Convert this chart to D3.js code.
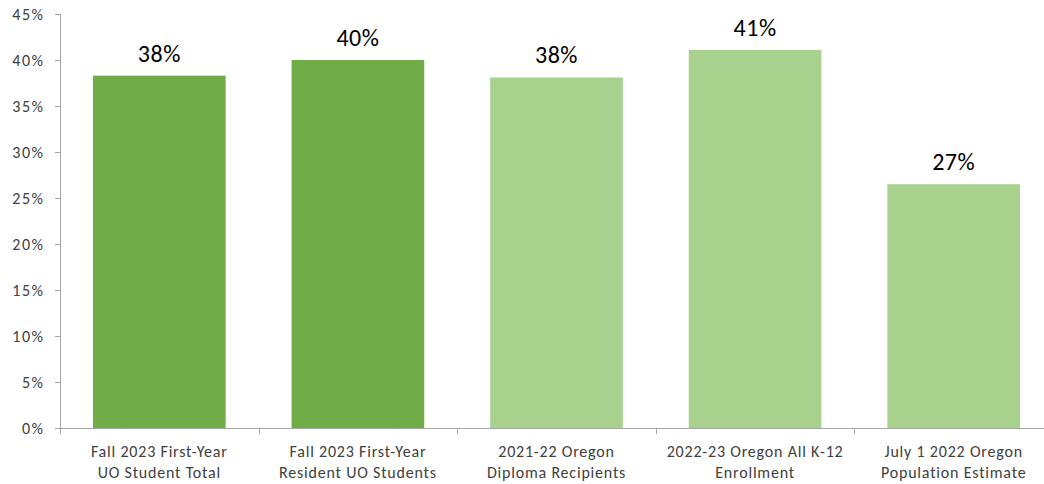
<!DOCTYPE html>
<html><head><meta charset="utf-8">
<script src="https://cdn.jsdelivr.net/npm/d3@7"></script>
<style>body{margin:0;background:#fff}svg{display:block}</style>
</head><body>
<svg id="c" width="1044" height="484"></svg>
<script>
const categories = [
  ["Fall 2023 First-Year", "UO Student Total"],
  ["Fall 2023 First-Year", "Resident UO Students"],
  ["2021-22 Oregon", "Diploma Recipients"],
  ["2022-23 Oregon All K-12", "Enrollment"],
  ["July 1 2022 Oregon", "Population Estimate"]
];
const values = [0.383, 0.400, 0.381, 0.411, 0.265];
const valueLabels = ["38%", "40%", "38%", "41%", "27%"];
const barGroup = ["uo", "uo", "state", "state", "state"];
const yTicks = [0, 0.05, 0.10, 0.15, 0.20, 0.25, 0.30, 0.35, 0.40, 0.45];

const colors = {uo: "#70AD47", state: "#A9D18E"};
const font = "Carlito, Lato, 'Open Sans', sans-serif";
const svg = d3.select("#c");
const m = {left: 60, right: 1053, top: 14, bottom: 428};

const x = d3.scaleBand().domain(d3.range(categories.length)).range([m.left, m.right]).paddingInner(0.332).paddingOuter(0.166);
const y = d3.scaleLinear().domain([0, 0.45]).range([m.bottom, m.top]);

// y axis
const ya = svg.append("g").attr("transform", `translate(${m.left},0)`)
  .call(d3.axisLeft(y).tickValues(yTicks).tickFormat(d3.format(".0%")).tickSize(5).tickPadding(12));
ya.select(".domain").attr("stroke", "#A6A6A6").attr("d", `M-5,${m.top}.5H0.5V${m.bottom}`);
ya.selectAll(".tick line").attr("stroke", "#A6A6A6");
ya.selectAll(".tick text").attr("fill", "#404040").style("font-family", font).style("font-size", "16px").style("letter-spacing", "1.5px").attr("dx", 1.5);

// bars
svg.append("g").selectAll("rect").data(values).join("rect")
  .attr("x", (d, i) => x(i)).attr("width", x.bandwidth())
  .attr("y", d => y(d)).attr("height", d => y(0) - y(d))
  .attr("fill", (d, i) => colors[barGroup[i]]);

// x axis
const xOuter = d3.scaleBand().domain(d3.range(categories.length)).range([m.left, m.right]);
const xa = svg.append("g").attr("transform", `translate(0,${m.bottom})`);
xa.append("line").attr("x1", m.left).attr("x2", m.right).attr("y1", 0.5).attr("y2", 0.5).attr("stroke", "#A6A6A6");
xa.selectAll("line.t").data(d3.range(categories.length + 1)).join("line").attr("class", "t")
  .attr("x1", i => Math.round(m.left + i * xOuter.step()) + 0.5).attr("x2", i => Math.round(m.left + i * xOuter.step()) + 0.5)
  .attr("y1", 0).attr("y2", 6).attr("stroke", "#A6A6A6");
const lab = xa.selectAll("text").data(categories).join("text")
  .attr("text-anchor", "middle").attr("fill", "#404040")
  .style("font-family", font).style("font-size", "16px").style("letter-spacing", "0.8px");
lab.each(function(d, i) {
  const t = d3.select(this);
  d.forEach((line, k) => t.append("tspan").attr("x", x(i) + x.bandwidth() / 2).attr("y", 29 + k * 21).text(line));
});

// value labels
svg.append("g").selectAll("text").data(values).join("text")
  .attr("x", (d, i) => x(i) + x.bandwidth() / 2).attr("y", d => y(d) - 14)
  .attr("text-anchor", "middle").attr("fill", "#000")
  .style("font-family", font).style("font-size", "24px").style("letter-spacing", "0.5px")
  .text((d, i) => valueLabels[i]);
</script>
</body></html>
